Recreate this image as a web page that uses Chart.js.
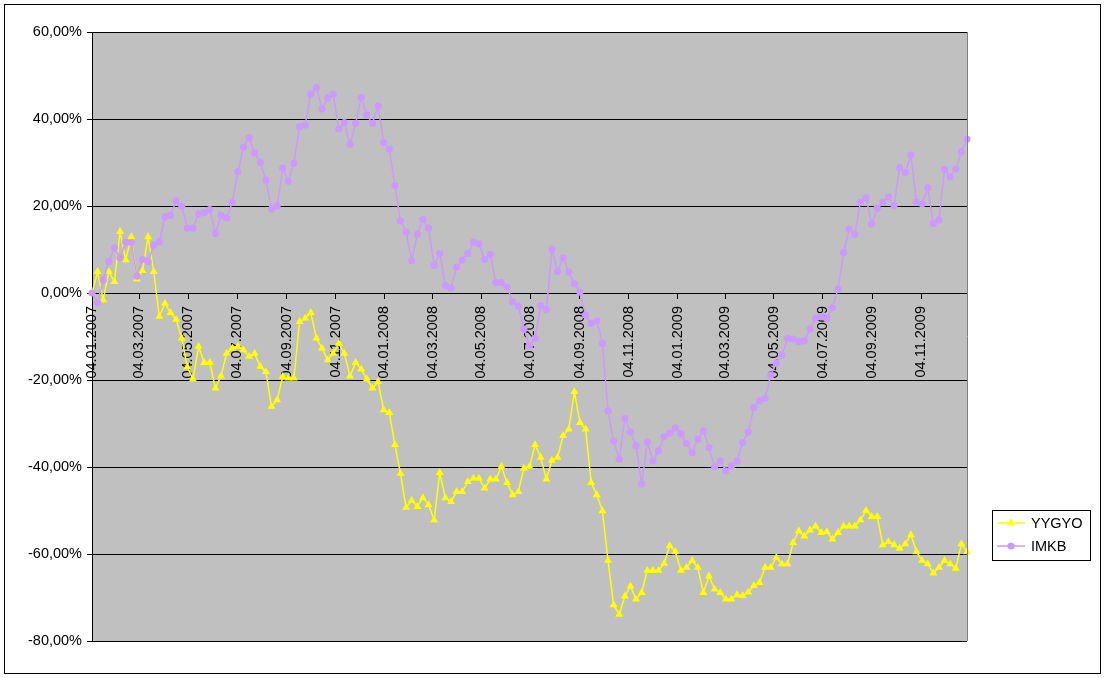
<!DOCTYPE html>
<html>
<head>
<meta charset="utf-8">
<script src="https://cdn.jsdelivr.net/npm/chart.js@4.4.1/dist/chart.umd.min.js"></script>
<style>
  html, body { margin: 0; padding: 0; background: #fff; }
  #wrap { width: 1105px; height: 678px; }
</style>
</head>
<body>
<div id="wrap"><canvas id="chart" width="1105" height="678"></canvas></div>
<script>
// weekly observation dates
const weeks = [
  '04.01.2007','11.01.2007','18.01.2007','25.01.2007',
  '01.02.2007','08.02.2007','15.02.2007','22.02.2007',
  '01.03.2007','08.03.2007','15.03.2007','22.03.2007','29.03.2007',
  '05.04.2007','12.04.2007','19.04.2007','26.04.2007',
  '03.05.2007','10.05.2007','17.05.2007','24.05.2007','31.05.2007',
  '07.06.2007','14.06.2007','21.06.2007','28.06.2007',
  '05.07.2007','12.07.2007','19.07.2007','26.07.2007',
  '02.08.2007','09.08.2007','16.08.2007','23.08.2007','30.08.2007',
  '06.09.2007','13.09.2007','20.09.2007','27.09.2007',
  '04.10.2007','11.10.2007','18.10.2007','25.10.2007',
  '01.11.2007','08.11.2007','15.11.2007','22.11.2007','29.11.2007',
  '06.12.2007','13.12.2007','20.12.2007','27.12.2007',
  '03.01.2008','10.01.2008','17.01.2008','24.01.2008','31.01.2008',
  '07.02.2008','14.02.2008','21.02.2008','28.02.2008',
  '06.03.2008','13.03.2008','20.03.2008','27.03.2008',
  '03.04.2008','10.04.2008','17.04.2008','24.04.2008',
  '01.05.2008','08.05.2008','15.05.2008','22.05.2008','29.05.2008',
  '05.06.2008','12.06.2008','19.06.2008','26.06.2008',
  '03.07.2008','10.07.2008','17.07.2008','24.07.2008','31.07.2008',
  '07.08.2008','14.08.2008','21.08.2008','28.08.2008',
  '04.09.2008','11.09.2008','18.09.2008','25.09.2008',
  '02.10.2008','09.10.2008','16.10.2008','23.10.2008','30.10.2008',
  '06.11.2008','13.11.2008','20.11.2008','27.11.2008',
  '04.12.2008','11.12.2008','18.12.2008','25.12.2008',
  '01.01.2009','08.01.2009','15.01.2009','22.01.2009','29.01.2009',
  '05.02.2009','12.02.2009','19.02.2009','26.02.2009',
  '05.03.2009','12.03.2009','19.03.2009','26.03.2009',
  '02.04.2009','09.04.2009','16.04.2009','23.04.2009','30.04.2009',
  '07.05.2009','14.05.2009','21.05.2009','28.05.2009',
  '04.06.2009','11.06.2009','18.06.2009','25.06.2009',
  '02.07.2009','09.07.2009','16.07.2009','23.07.2009','30.07.2009',
  '06.08.2009','13.08.2009','20.08.2009','27.08.2009',
  '03.09.2009','10.09.2009','17.09.2009','24.09.2009',
  '01.10.2009','08.10.2009','15.10.2009','22.10.2009','29.10.2009',
  '05.11.2009','12.11.2009','19.11.2009','26.11.2009',
  '03.12.2009','10.12.2009','17.12.2009','24.12.2009','31.12.2009'
];

// cumulative change, %
const yygyo = [
  0, 4.9, -1.6, 4.9, 2.6, 14.1, 7.6, 12.9, 3.2, 5.1,
  12.9, 4.9, -5.4, -2.4, -4.5, -6.1, -10.4, -17.0, -19.8, -12.3,
  -16.0, -16.0, -21.9, -19.1, -13.9, -12.7, -12.3, -13.1, -14.6, -13.9,
  -16.9, -18.1, -26.1, -24.6, -19.2, -19.6, -19.6, -6.6, -5.8, -4.5,
  -10.4, -12.7, -15.4, -13.9, -11.6, -13.9, -19.1, -16.0, -17.5, -19.8,
  -21.9, -20.4, -26.9, -27.5, -34.9, -41.5, -49.3, -47.7, -49.1, -47.1,
  -48.7, -52.2, -41.3, -47.1, -48.0, -45.7, -45.7, -43.4, -42.6, -42.6,
  -44.9, -42.8, -42.8, -39.9, -43.6, -46.4, -45.7, -40.3, -39.9, -34.9,
  -37.8, -42.8, -38.5, -37.8, -32.8, -31.3, -22.7, -29.8, -31.3, -43.6,
  -46.4, -50.1, -61.5, -71.7, -73.9, -69.7, -67.4, -70.4, -68.9, -63.8,
  -63.8, -63.8, -62.2, -58.1, -59.5, -63.8, -63.1, -61.5, -63.1, -68.9,
  -65.1, -68.1, -68.9, -70.4, -70.4, -69.4, -69.6, -68.8, -67.3, -66.6,
  -63.1, -63.1, -60.8, -62.3, -62.3, -57.4, -54.7, -55.9, -54.5, -53.6,
  -55.1, -54.9, -56.6, -55.1, -53.6, -53.6, -53.6, -52.2, -50.0, -51.4,
  -51.4, -57.9, -57.2, -57.9, -58.7, -57.7, -55.6, -59.5, -61.5, -62.3,
  -64.4, -63.1, -61.5, -62.3, -63.3, -57.7, -59.5
];

const imkb = [
  0, -2.2, 3.0, 7.2, 10.4, 8.1, 11.7, 11.6, 3.9, 7.7,
  7.2, 11.0, 11.8, 17.5, 17.9, 21.2, 20.0, 14.9, 14.9, 18.2,
  18.5, 19.2, 13.7, 17.9, 17.2, 20.8, 27.9, 33.5, 35.7, 32.2,
  30.0, 26.0, 19.3, 20.0, 28.7, 25.7, 29.8, 38.2, 38.6, 45.7,
  47.2, 42.3, 44.8, 45.7, 37.7, 39.2, 34.2, 39.0, 44.9, 40.9,
  39.0, 43.0, 34.6, 33.1, 24.7, 16.6, 14.0, 7.4, 13.5, 16.9,
  14.9, 6.4, 9.1, 1.7, 1.1, 5.9, 7.6, 9.1, 11.7, 11.3,
  7.7, 8.9, 2.4, 2.4, 1.4, -2.0, -3.0, -8.3, -12.0, -10.4,
  -2.9, -3.8, 10.1, 4.9, 8.1, 4.8, 2.1, 0.2, -5.1, -7.0,
  -6.4, -11.6, -27.1, -34.0, -38.2, -28.9, -31.9, -35.1, -43.9, -34.2,
  -38.6, -36.3, -33.0, -32.2, -31.0, -32.4, -34.6, -36.7, -33.6, -31.7,
  -35.6, -39.9, -38.6, -40.9, -39.7, -38.6, -34.4, -32.0, -26.3, -24.8,
  -24.2, -18.9, -16.2, -14.3, -10.4, -10.6, -11.2, -11.0, -8.3, -5.8,
  -5.4, -5.8, -3.4, 0.9, 9.3, 14.7, 13.5, 20.9, 21.9, 15.8,
  19.5, 20.9, 22.1, 20.1, 28.8, 27.7, 31.7, 20.9, 20.5, 24.2,
  16.0, 16.8, 28.4, 26.7, 28.5, 32.5, 35.4
];

const tickDates = [
  '04.01.2007','04.03.2007','04.05.2007','04.07.2007','04.09.2007','04.11.2007',
  '04.01.2008','04.03.2008','04.05.2008','04.07.2008','04.09.2008','04.11.2008',
  '04.01.2009','04.03.2009','04.05.2009','04.07.2009','04.09.2009','04.11.2009'
];
const yTicks = [-80, -60, -40, -20, 0, 20, 40, 60];

const FONT = "'Liberation Sans', Arial, sans-serif";
const FSIZE = 14.5;

function dayOf(s) {
  const p = s.split('.').map(Number);
  return Math.round((Date.UTC(p[2], p[1] - 1, p[0]) - Date.UTC(2007, 0, 4)) / 86400000);
}

function pct(v) {
  return v.toFixed(2).replace('.', ',') + '%';
}

// white page, outer frame and grey plot area
const backdrop = {
  id: 'backdrop',
  beforeDraw(chart) {
    const ctx = chart.ctx, a = chart.chartArea;
    ctx.save();
    ctx.fillStyle = '#fff';
    ctx.fillRect(0, 0, chart.width, chart.height);
    ctx.strokeStyle = '#000';
    ctx.lineWidth = 1;
    ctx.strokeRect(4.5, 4.5, 1096, 669);
    ctx.fillStyle = '#c0c0c0';
    ctx.fillRect(a.left, a.top, a.right - a.left, a.bottom - a.top);
    ctx.restore();
  },
  afterDraw(chart) {
    const ctx = chart.ctx, a = chart.chartArea;
    ctx.save();
    ctx.strokeStyle = '#808080';
    ctx.lineWidth = 1;
    ctx.beginPath();
    ctx.moveTo(Math.round(a.right) + 0.5, a.top);
    ctx.lineTo(Math.round(a.right) + 0.5, a.bottom);
    ctx.stroke();

    // legend
    const bx = 992.5, by = 510.5, bw = 98, bh = 50;
    ctx.fillStyle = '#fff';
    ctx.fillRect(bx, by, bw, bh);
    ctx.strokeStyle = '#000';
    ctx.strokeRect(bx, by, bw, bh);
    ctx.font = FSIZE + 'px ' + FONT;
    ctx.textBaseline = 'middle';
    ctx.textAlign = 'left';
    chart.data.datasets.forEach((ds, i) => {
      const y = 523 + i * 23;
      ctx.strokeStyle = ds.borderColor;
      ctx.lineWidth = ds.borderWidth;
      ctx.beginPath();
      ctx.moveTo(997, y);
      ctx.lineTo(1025, y);
      ctx.stroke();
      ctx.fillStyle = ds.borderColor;
      ctx.beginPath();
      const r = ds.pointRadius;
      if (ds.pointStyle === 'triangle') {
        ctx.moveTo(1011, y - r);
        ctx.lineTo(1011 + r * 0.866, y + r * 0.5);
        ctx.lineTo(1011 - r * 0.866, y + r * 0.5);
        ctx.closePath();
      } else {
        ctx.arc(1011, y, r, 0, Math.PI * 2);
      }
      ctx.fill();
      ctx.fillStyle = '#000';
      ctx.fillText(ds.label, 1031, y + 1);
    });
    ctx.restore();
  }
};

const ctx = document.getElementById('chart').getContext('2d');

new Chart(ctx, {
  type: 'line',
  data: {
    datasets: [
      {
        label: 'YYGYO',
        data: weeks.map((w, i) => ({ x: dayOf(w), y: yygyo[i] })),
        borderColor: '#ffff00',
        backgroundColor: '#ffff00',
        borderWidth: 1.5,
        pointStyle: 'triangle',
        pointRadius: 4.6,
        pointBorderWidth: 0,
        pointBackgroundColor: '#ffff00',
        tension: 0,
        clip: false,
        order: 1
      },
      {
        label: 'IMKB',
        data: weeks.map((w, i) => ({ x: dayOf(w), y: imkb[i] })),
        borderColor: '#cc99ff',
        backgroundColor: '#cc99ff',
        borderWidth: 1.5,
        pointStyle: 'circle',
        pointRadius: 3.6,
        pointBorderWidth: 0,
        pointBackgroundColor: '#cc99ff',
        tension: 0,
        clip: false,
        order: 0
      }
    ]
  },
  options: {
    responsive: false,
    animation: false,
    devicePixelRatio: 1,
    layout: { padding: { left: 0, right: 138, top: 32, bottom: 37 } },
    plugins: {
      legend: { display: false },
      tooltip: { enabled: false }
    },
    scales: {
      x: {
        type: 'linear',
        bounds: 'data',
        min: 0,
        max: dayOf(weeks[weeks.length - 1]),
        position: { y: 0 },
        afterBuildTicks: scale => {
          scale.ticks = tickDates.map(t => ({ value: dayOf(t) }));
        },
        ticks: {
          autoSkip: false,
          minRotation: 90,
          maxRotation: 90,
          padding: 8,
          color: '#000',
          font: { family: FONT, size: FSIZE },
          callback: (v, i) => tickDates[i]
        },
        grid: {
          display: true,
          drawOnChartArea: false,
          drawTicks: true,
          tickLength: 5,
          color: '#000',
          lineWidth: 1
        },
        border: { display: true, color: '#000', width: 1 }
      },
      y: {
        min: -80,
        max: 60,
        afterBuildTicks: scale => {
          scale.ticks = yTicks.map(v => ({ value: v }));
        },
        afterFit: scale => { scale.width = 92; },
        ticks: {
          padding: 5,
          color: '#000',
          font: { family: FONT, size: FSIZE },
          callback: v => pct(v)
        },
        grid: { color: '#000', lineWidth: 1, tickLength: 5 },
        border: { display: true, color: '#000', width: 1 }
      }
    }
  },
  plugins: [backdrop]
});
</script>
</body>
</html>
